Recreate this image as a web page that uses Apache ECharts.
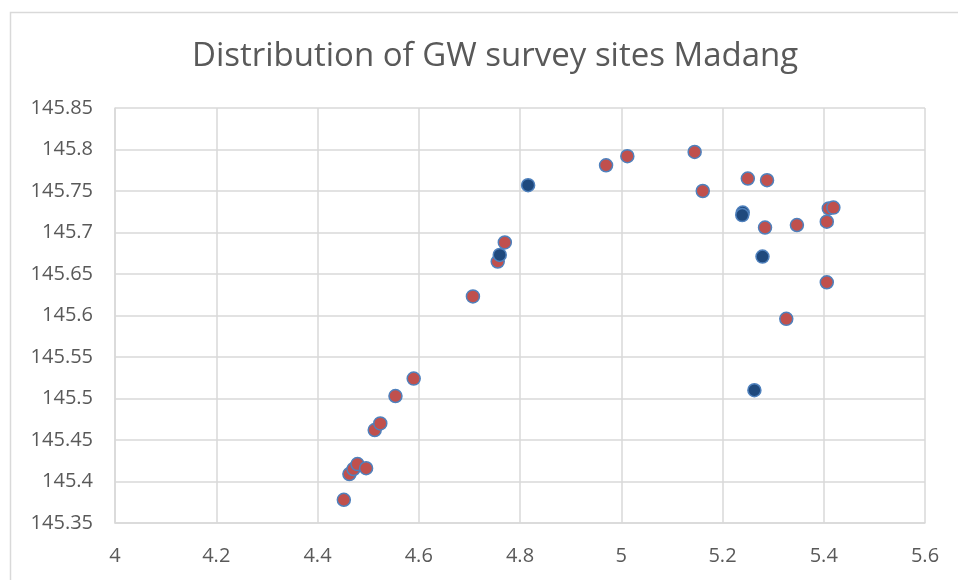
<!DOCTYPE html>
<html>
<head>
<meta charset="utf-8">
<script src="https://cdn.jsdelivr.net/npm/echarts@6/dist/echarts.min.js"></script>
<style>
  html, body { margin: 0; padding: 0; background: #fff; }
  #main { width: 958px; height: 580px; }
</style>
</head>
<body>
<div id="main"></div>
<script>
const titleText = 'Distribution of GW survey sites Madang'

// red markers (x, y)
const redX = [4.452, 4.463, 4.471, 4.479, 4.496, 4.513, 4.524, 4.554, 4.590,
  4.707, 4.756, 4.770, 4.970, 5.012, 5.145, 5.161, 5.250, 5.288, 5.284,
  5.347, 5.406, 5.410, 5.419, 5.406, 5.326]
const redY = [145.378, 145.409, 145.415, 145.421, 145.416, 145.462, 145.470, 145.503, 145.524,
  145.623, 145.665, 145.688, 145.781, 145.792, 145.797, 145.750, 145.765, 145.763, 145.706,
  145.709, 145.713, 145.729, 145.730, 145.640, 145.596]

// dark blue markers (x, y)
const darkX = [4.760, 4.816, 5.240, 5.239, 5.279, 5.263]
const darkY = [145.673, 145.757, 145.724, 145.721, 145.671, 145.510]

const pairs = (xs, ys) => xs.map((x, i) => [x, ys[i]])

const chart = echarts.init(document.getElementById('main'))

const labelStyle = {
  color: '#595959',
  fontSize: 20,
  fontFamily: 'Open Sans'
}
const gridLine = {
  lineStyle: { color: '#d9d9d9', width: 1.5 }
}

var option = {
  animation: false,
  title: {
    text: titleText,
    left: 187,
    top: 35,
    textStyle: {
      color: '#595959',
      fontSize: 33,
      fontWeight: 'normal',
      fontFamily: 'Open Sans'
    }
  },
  graphic: [{
    type: 'rect',
    left: 8,
    top: 10,
    shape: { width: 1000, height: 620 },
    style: { fill: 'none', stroke: '#d9d9d9', lineWidth: 1.5 },
    silent: true
  }],
  grid: {
    left: 115,
    right: 33,
    top: 108,
    bottom: 57,
    containLabel: false
  },
  xAxis: {
    type: 'value',
    min: 4,
    max: 5.6,
    interval: 0.2,
    axisLine: { show: true, onZero: false, lineStyle: { color: '#d9d9d9', width: 1.5 } },
    axisTick: { show: false },
    splitLine: gridLine,
    axisLabel: Object.assign({ margin: 23, formatter: v => String(+v.toFixed(1)) }, labelStyle)
  },
  yAxis: {
    type: 'value',
    min: 145.35,
    max: 145.85,
    interval: 0.05,
    axisLine: { show: true, onZero: false, lineStyle: { color: '#d9d9d9', width: 1.5 } },
    axisTick: { show: false },
    splitLine: gridLine,
    axisLabel: Object.assign({ margin: 22, formatter: v => String(+v.toFixed(2)) }, labelStyle)
  },
  series: [
    {
      name: 'red',
      type: 'scatter',
      symbolSize: 13,
      itemStyle: { color: '#c0504d', borderColor: '#4f81bd', borderWidth: 1.5, opacity: 1 },
      data: pairs(redX, redY)
    },
    {
      name: 'dark',
      type: 'scatter',
      symbolSize: 13,
      itemStyle: { color: '#1f497d', borderColor: '#4f81bd', borderWidth: 1.5, opacity: 1 },
      data: pairs(darkX, darkY)
    }
  ]
}

chart.setOption(option)
</script>
</body>
</html>
